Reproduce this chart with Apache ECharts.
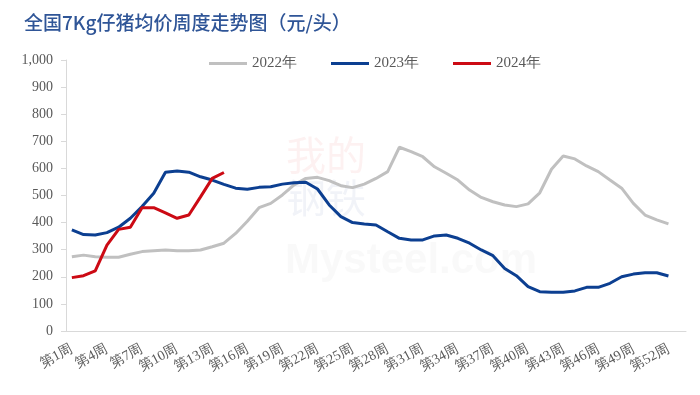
<!DOCTYPE html>
<html><head><meta charset="utf-8">
<script src="https://cdn.jsdelivr.net/npm/echarts@6/dist/echarts.min.js"></script>
<style>html,body{margin:0;padding:0;background:#fff}#c{width:700px;height:395px}</style>
</head><body><div id="c"></div>
<script>
const weeks = [];
for (let i = 1; i <= 53; i++) weeks.push('第' + i + '周');
const s2022 = [274,280,274,272,272,283,293,296,299,296,296,299,311,324,360,405,455,471,502,539,563,567,555,536,529,542,563,588,678,662,643,606,582,557,520,493,477,465,459,469,510,597,646,635,609,588,557,527,471,428,410,395];
const s2023 = [373,356,354,363,383,416,459,508,586,590,586,569,557,541,527,523,530,532,542,547,549,524,465,422,400,395,391,366,342,336,336,351,354,342,324,299,278,231,204,164,145,143,143,148,161,161,176,200,210,215,215,203];
const s2024 = [197,204,222,317,375,383,455,455,436,416,428,495,563,585];
const yTicks = [0,100,200,300,400,500,600,700,800,900,1000];

const chart = echarts.init(document.getElementById('c'));
const serif = '"Liberation Serif","Times New Roman",serif';
chart.setOption({
  animation: false,
  title: {
    text: '全国7Kg仔猪均价周度走势图（元/头）',
    left: 19, top: 8,
    textStyle: {fontFamily: '"Noto Sans CJK SC",sans-serif', fontSize: 19, fontWeight: 500, color: '#2F5597'}
  },
  legend: {
    top: 51, left: 204, itemGap: 34, itemWidth: 38, itemHeight: 3,
    icon: 'rect',
    textStyle: {fontFamily: serif, fontSize: 15, color: '#595959'},
    data: ['2022年','2023年','2024年']
  },
  graphic: [
    {type: 'text', left: 286, top: 135, style: {text: '我的', fontSize: 40, fill: 'rgba(220,60,60,0.07)', fontFamily: '"Noto Sans CJK SC"'}},
    {type: 'text', left: 286, top: 178, style: {text: '钢铁', fontSize: 40, fill: 'rgba(60,80,160,0.07)', fontFamily: '"Noto Sans CJK SC"'}},
    {type: 'text', left: 285, top: 240, style: {text: 'Mysteel.com', fontSize: 42, fontWeight: 'bold', fill: 'rgba(180,180,180,0.08)', fontFamily: 'Arial'}}
  ],
  grid: {left: 66, right: 14, top: 60, bottom: 64, containLabel: false},
  xAxis: {
    type: 'category', data: weeks, boundaryGap: true,
    axisLine: {lineStyle: {color: '#d9d9d9'}},
    axisTick: {interval: 2, lineStyle: {color: '#d9d9d9'}, length: 5},
    axisLabel: {interval: 2, rotate: 28, color: '#595959', fontFamily: serif, fontSize: 14, margin: 17}
  },
  yAxis: {
    type: 'value', min: 0, max: 1000, interval: 100,
    axisLine: {show: true, lineStyle: {color: '#d9d9d9'}},
    axisTick: {show: true, lineStyle: {color: '#d9d9d9'}, length: 5},
    splitLine: {show: false},
    axisLabel: {color: '#595959', fontFamily: serif, fontSize: 14, margin: 13,
      formatter: v => v.toLocaleString('en-US')}
  },
  series: [
    {name: '2022年', type: 'line', data: s2022, symbol: 'none', lineStyle: {width: 3, color: '#C0C0C0'}, itemStyle: {color: '#C0C0C0'}},
    {name: '2023年', type: 'line', data: s2023, symbol: 'none', lineStyle: {width: 3, color: '#0C3F91'}, itemStyle: {color: '#0C3F91'}},
    {name: '2024年', type: 'line', data: s2024, symbol: 'none', lineStyle: {width: 3, color: '#CC0A14'}, itemStyle: {color: '#CC0A14'}}
  ]
});
</script></body></html>
